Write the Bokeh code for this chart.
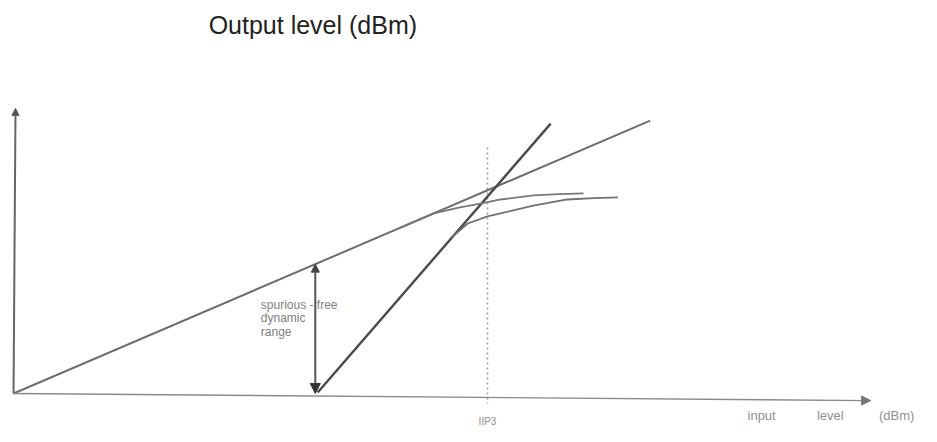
from bokeh.plotting import figure
from bokeh.models import Range1d, Arrow, NormalHead
from bokeh.core.properties import value
from bokeh.embed import file_html
from bokeh.resources import INLINE

# ---- data (input level dBm -> output level dBm) ----
fund_in = [-60.0, 20.6]
fund_out = [-50.0, 30.6]

im3_in = [-21.5, 8.0]
im3_out = [-49.7, 29.7]

fund_real_in = [-11.0, -6.8, -3.5, -0.9, 1.65, 5.8, 9.0, 12.15]
fund_real_out = [-1.0, 3.2, 5.0, 6.1, 7.3, 8.5, 8.9, 9.1]

im3_real_in = [-4.7, -2.5, 0.0, 1.65, 5.8, 10.1, 13.5, 16.5]
im3_real_out = [-4.2, 0.2, 2.3, 3.2, 5.5, 7.3, 7.7, 7.9]

x_axis_in = [-60.0, 48.5]
x_axis_out = [-50.0, -52.1]
y_axis_in = [-60.0, -59.75]
y_axis_out = [-50.0, 34.2]

iip3_in = 0.0
iip3_span = [22.65, -52.95]

sfdr_in = -21.8
sfdr_top = -11.8
sfdr_bottom = -50.0

title_text = "Output level (dBm)"
title_pos = (-35.3, 58.7)
sfdr_lines = ["spurious - free", "dynamic", "range"]
sfdr_text_in = -28.7
sfdr_text_out = [-24.0, -27.8, -31.7]
xlabel_words = ["input", "level", "(dBm)"]
xlabel_in = [34.7, 43.4, 51.8]
xlabel_out = -56.5
iip3_label = "IIP3"
iip3_label_out = -58.4

p = figure(width=921, height=426, output_backend="svg", toolbar_location=None,
           x_range=Range1d(-61.65, 54.94), y_range=Range1d(-59.75, 66.07),
           x_axis_type=None, y_axis_type=None, min_border=0)
p.grid.visible = False
p.outline_line_color = None
p.background_fill_color = "white"
p.border_fill_color = "white"

# axes
p.add_layout(Arrow(end=NormalHead(size=9, fill_color="#777", line_color="#777"),
                   x_start=x_axis_in[0], y_start=x_axis_out[0],
                   x_end=x_axis_in[1], y_end=x_axis_out[1],
                   line_color="#8a8a8a", line_width=1.4))
p.add_layout(Arrow(end=NormalHead(size=7, fill_color="#555", line_color="#555"),
                   x_start=y_axis_in[0], y_start=y_axis_out[0],
                   x_end=y_axis_in[1], y_end=y_axis_out[1],
                   line_color="#666", line_width=2))

# dotted IIP3 marker
p.line([iip3_in, iip3_in], iip3_span, line_color="#a0a0a0", line_width=1.6,
       line_dash="2 3")

# lines
p.line(fund_in, fund_out, line_color="#6e6e6e", line_width=2)
p.line(im3_in, im3_out, line_color="#4a4a4a", line_width=2.4)
p.line(fund_real_in, fund_real_out, line_color="#777", line_width=1.8)
p.line(im3_real_in, im3_real_out, line_color="#707070", line_width=1.8)

# spurious-free dynamic range arrow
p.add_layout(Arrow(start=NormalHead(size=8, fill_color="#444", line_color="#444"),
                   end=NormalHead(size=10, fill_color="#333", line_color="#333"),
                   x_start=sfdr_in, y_start=sfdr_top,
                   x_end=sfdr_in, y_end=sfdr_bottom,
                   line_color="#555", line_width=2))

# texts
p.text(x=[title_pos[0]], y=[title_pos[1]], text=[title_text],
       text_font=value("Liberation Sans"), text_font_size="25px",
       text_color="#222", text_baseline="middle", text_align="left")
p.text(x=[sfdr_text_in] * len(sfdr_lines), y=sfdr_text_out, text=sfdr_lines,
       text_font=value("Liberation Sans"), text_font_size="12px",
       text_color="#808080", text_baseline="middle", text_align="left")
p.text(x=xlabel_in, y=[xlabel_out] * len(xlabel_words), text=xlabel_words,
       text_font=value("Liberation Sans"), text_font_size="13px",
       text_color="#909090", text_baseline="middle", text_align="center")
p.text(x=[iip3_in], y=[iip3_label_out], text=[iip3_label],
       text_font=value("Liberation Sans"), text_font_size="10px",
       text_color="#909090", text_baseline="middle", text_align="center")

open("out.html", "w").write(file_html(p, INLINE))
